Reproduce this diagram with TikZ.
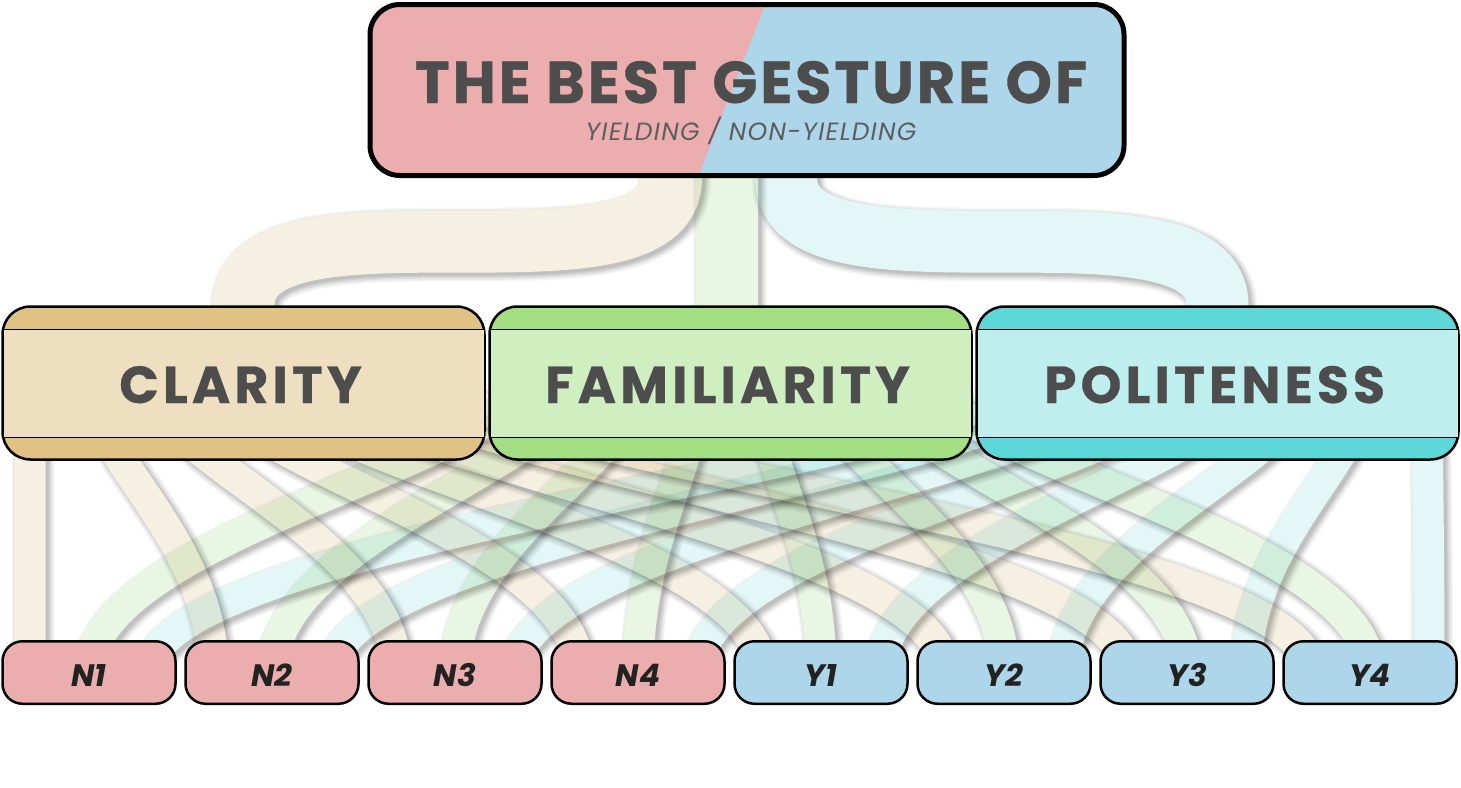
\documentclass[tikz,border=0pt]{standalone}
\usepackage{fontspec}
\newfontfamily\poptitle{Poppins}[LetterSpace=5,FakeBold=0.6]
\newfontfamily\popmid{Poppins}[LetterSpace=8,FakeBold=0.6]
\newfontfamily\popsub{Poppins}[LetterSpace=5]
\newfontfamily\popleaf{Poppins}
\usetikzlibrary{calc}
\pgfdeclarelayer{paper}
\pgfdeclarelayer{ribbons}
\pgfsetlayers{paper,ribbons,main}
\definecolor{tpink}{HTML}{ECADAE}
\definecolor{tblue}{HTML}{ADD6EA}
\definecolor{clarband}{HTML}{E0C285}
\definecolor{clarbody}{HTML}{EEDFC0}
\definecolor{famband}{HTML}{A3E084}
\definecolor{fambody}{HTML}{CFEFC0}
\definecolor{polband}{HTML}{5DD7D8}
\definecolor{polbody}{HTML}{BEEFEE}
\definecolor{ribbeige}{HTML}{F6F0E3}
\definecolor{ribgreen}{HTML}{E9F6E3}
\definecolor{ribcyan}{HTML}{E3F7F7}
\definecolor{txt}{HTML}{4D4D4D}
\definecolor{subtxt}{HTML}{5E5E5E}
\definecolor{leaftxt}{HTML}{222222}

% a ribbon: colour, width, path ; drawn with a soft shadow, multiplied onto what lies below
\newcommand\ribbon[3]{%
  \begin{scope}[blend mode=multiply]
  \begin{scope}[transparency group]
    \path (0,0) rectangle (1461,787);
    \begin{scope}[transform canvas={xshift=3pt,yshift=-3pt}]
      \draw[line width=#2+12, draw opacity=.035] #3;
      \draw[line width=#2+9, draw opacity=.045] #3;
      \draw[line width=#2+6, draw opacity=.055] #3;
      \draw[line width=#2+3, draw opacity=.065] #3;
      \draw[line width=#2, draw opacity=.075] #3;
    \end{scope}
    \draw[line width=#2, draw=#1] #3;
  \end{scope}
  \end{scope}}

% middle category box: name, centre x, band colour, body colour, label
\newcommand\catbox[5]{%
  \node[catframe, fill=#3] (#1) at (#2,383) {};
  \fill[#4] (#2-240,329.5) rectangle (#2+240,437.5);
  \draw[line width=1.5pt] (#2-240,329.5) -- (#2+240,329.5) (#2-240,437.5) -- (#2+240,437.5);
  \node[catlabel] at (#2-3,403) {#5};}

\begin{document}
\begin{tikzpicture}[x=1pt,y=-1pt,
  titlebox/.style={draw=black, line width=5pt, rounded corners=30pt, minimum width=754pt, minimum height=171pt, inner sep=0pt},
  titletext/.style={font=\poptitle\bfseries\fontsize{59}{63}\selectfont, text=txt, anchor=base, inner sep=0pt},
  subtext/.style={font=\popsub\itshape\fontsize{25}{28}\selectfont, text=subtxt, anchor=base, inner sep=0pt},
  catframe/.style={draw=black, line width=2.5pt, rounded corners=28pt, minimum width=482pt, minimum height=153pt, inner sep=0pt},
  catlabel/.style={font=\popmid\bfseries\fontsize{52}{56}\selectfont, text=txt, anchor=base, inner sep=0pt},
  leaf/.style={draw=black, line width=2.5pt, rounded corners=20pt, minimum width=173pt, minimum height=62.5pt, inner sep=0pt},
  leaflabel/.style={font=\popleaf\bfseries\itshape\fontsize{31}{34}\selectfont, text=leaftxt, anchor=base, inner sep=0pt}]

\begin{pgfonlayer}{paper}
  \fill[white] (0,0) rectangle (1461,787);
\end{pgfonlayer}
\useasboundingbox (0,0) rectangle (1461,787);

% ---- title
\begin{scope}
  \clip[rounded corners=30pt] (370,4.5) rectangle (1124,175.5);
  \fill[tblue] (370,4.5) rectangle (1124,175.5);
  \fill[tpink] (360,0) -- (767,0) -- (697,180) -- (360,180) -- cycle;
\end{scope}
\node[titlebox] (title) at (747,90) {};
\node[titletext] at (751,103) {THE BEST GESTURE OF};
\node[subtext] at (751,140) {YIELDING / NON-YIELDING};

% ---- categories
\catbox{clarity}{243.5}{clarband}{clarbody}{CLARITY}
\catbox{familiarity}{730.5}{famband}{fambody}{FAMILIARITY}
\catbox{politeness}{1217.5}{polband}{polbody}{POLITENESS}

% ---- leaves
\foreach \name/\lab/\cx/\col in {n1/N1/89/tpink, n2/N2/272/tpink, n3/N3/455/tpink, n4/N4/638/tpink,
                                  y1/Y1/821/tblue, y2/Y2/1004/tblue, y3/Y3/1187/tblue, y4/Y4/1370/tblue}{
  \node[leaf, fill=\col] (\name) at (\cx,672.5) {};
  \node[leaflabel] at (\cx,686) {\lab};
}

% ---- ribbons
\begin{pgfonlayer}{ribbons}
  \coordinate (tb) at ($(title.south)+(-76,0)$);
  \coordinate (tg) at ($(title.south)+(-20,0)$);
  \coordinate (tc) at ($(title.south)+(39,0)$);
  \ribbon{ribbeige}{62}{($(tb)+(0,-40)$) -- (tb) .. controls (tb |- clarity.north) and (clarity.north |- tb) .. (clarity.north) -- ($(clarity.north)+(0,40)$)}
  \ribbon{ribgreen}{62}{($(tg)+(0,-40)$) -- ($(tg |- familiarity.north)+(0,40)$)}
  \ribbon{ribcyan}{62}{($(tc)+(0,-40)$) -- (tc) .. controls (tc |- politeness.north) and (politeness.north |- tc) .. (politeness.north) -- ($(politeness.north)+(0,40)$)}

  \foreach \s/\src/\col in {0/clarity/ribbeige, 1/familiarity/ribgreen, 2/politeness/ribcyan}{
    \foreach \j/\lf in {0/n1,1/n2,2/n3,3/n4,4/y1,5/y2,6/y3,7/y4}{
      \coordinate (P) at ($(\src.west)+({29+60.4*\j},0)$);
      \coordinate (D) at ($(\lf.center)+({59*(\s-1)},0)$);
      \ribbon{\col}{31}{(P) .. controls ($(P)+(0,75)$) and ($(D)+(0,-135)$) .. (D)}
    }
  }
\end{pgfonlayer}
\end{tikzpicture}
\end{document}
